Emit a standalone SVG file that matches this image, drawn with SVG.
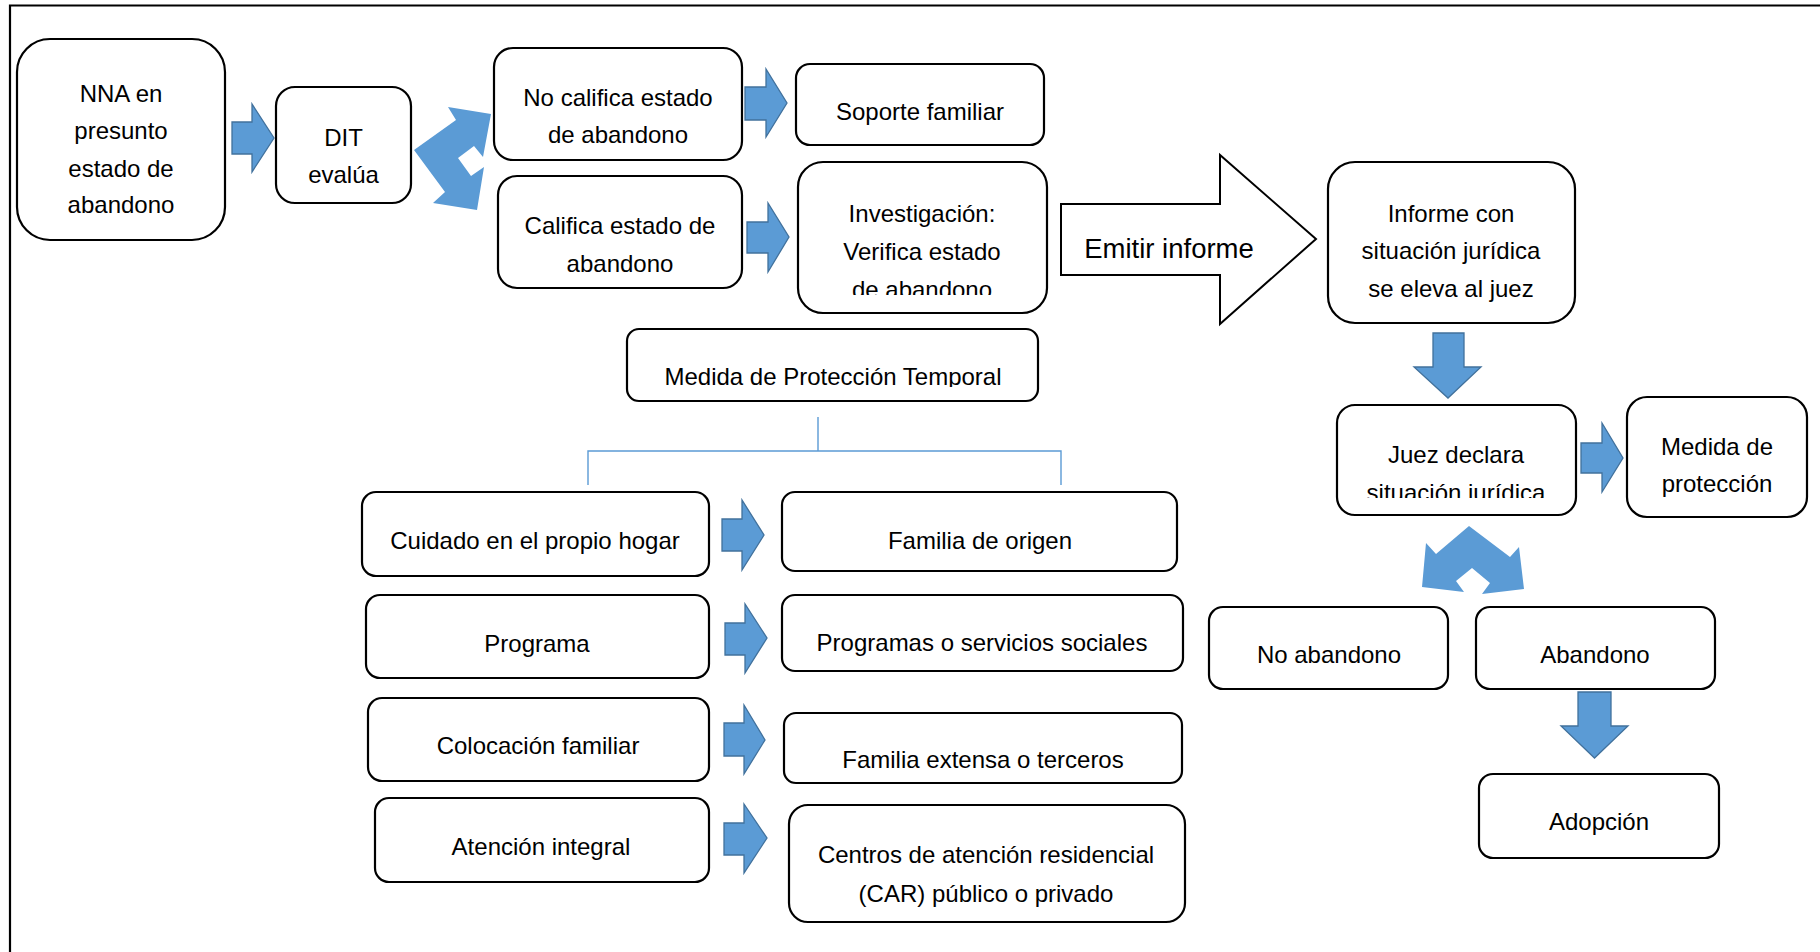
<svg xmlns="http://www.w3.org/2000/svg" width="1820" height="952" viewBox="0 0 1820 952">
<style>
.box{fill:#fff;stroke:#000;stroke-width:2.2}
.t{font-family:"Liberation Sans",Arial,sans-serif;font-size:24px;text-anchor:middle;fill:#000}
.big{font-size:27.5px}
.blk{fill:#5b9bd5;stroke:#41719c;stroke-width:1.3;stroke-linejoin:miter}
.flat{fill:#5b9bd5;stroke:none}
.ln{fill:none;stroke:#5b9bd5;stroke-width:1.4}
.frame{fill:none;stroke:#000;stroke-width:2.2}
.out{fill:#fff;stroke:#000;stroke-width:2}
</style>
<defs>
<clipPath id="clipInv"><rect x="798" y="162" width="249" height="133"/></clipPath>
<clipPath id="clipJuez"><rect x="1337" y="405" width="239" height="93"/></clipPath>
<clipPath id="clipMed"><rect x="627" y="329" width="411" height="58"/></clipPath>
</defs>
<rect width="1820" height="952" fill="#fff"/>
<path class="frame" d="M10,952 V5.5 H1820"/>

<g id="connectors">
<polygon class="blk" points="232,122 252,122 252,104 274,138 252,172 252,154 232,154"/>
<polygon class="flat" points="414,150 456,120 448,107 491,114 483,157 474,146 458,158 471,176 484,167 477,210 433,203 445,192"/>
<polygon class="blk" points="745,87 766,87 766,69 787,103 766,137 766,120 745,120"/>
<polygon class="blk" points="747,222 768,222 768,203 789,237 768,272 768,253 747,253"/>
<polygon class="blk" points="1433,333 1464,333 1464,367 1481,367 1448,398 1414,367 1433,367"/>
<polygon class="blk" points="1581,443 1602,443 1602,423 1623,458 1602,492 1602,473 1581,473"/>
<polygon class="flat" points="1469,526 1510,557 1519,547 1524,589 1482,594 1490,583 1472,568 1456,581 1464,592 1422,587 1426,543 1436,554"/>
<polygon class="blk" points="1578,692 1611,692 1611,726 1628,726 1594.5,758 1561,726 1578,726"/>
<path class="ln" d="M818,417 V451 M588,485 V451 H1061 V485"/>
<polygon class="blk" points="722,519 742,519 742,500 764,535 742,570 742,551 722,551"/>
<polygon class="blk" points="725,623 745,623 745,604 767,638 745,673 745,655 725,655"/>
<polygon class="blk" points="724,723 744,723 744,705 765,740 744,774 744,756 724,756"/>
<polygon class="blk" points="724,823 744,823 744,804 767,838 744,873 744,855 724,855"/>
</g>

<g id="emitir">
<polygon class="out" points="1061,204 1220,204 1220,155 1316,239 1220,324 1220,275 1061,275"/>
<text class="t big" x="1169" y="258">Emitir informe</text>
</g>

<g id="nna">
<rect class="box" x="17" y="39" width="208" height="201" rx="33"/>
<text class="t" x="121" y="102">NNA en</text>
<text class="t" x="121" y="139">presunto</text>
<text class="t" x="121" y="177">estado de</text>
<text class="t" x="121" y="213">abandono</text>
</g>
<g id="dit">
<rect class="box" x="276" y="87" width="135" height="116" rx="19"/>
<text class="t" x="343.5" y="146">DIT</text>
<text class="t" x="343.5" y="183">evalúa</text>
</g>
<g id="nocalifica">
<rect class="box" x="494" y="48" width="248" height="112" rx="19"/>
<text class="t" x="618" y="106">No califica estado</text>
<text class="t" x="618" y="143">de abandono</text>
</g>
<g id="califica">
<rect class="box" x="498" y="176" width="244" height="112" rx="19"/>
<text class="t" x="620" y="234">Califica estado de</text>
<text class="t" x="620" y="272">abandono</text>
</g>
<g id="soporte">
<rect class="box" x="796" y="64" width="248" height="81" rx="14"/>
<text class="t" x="920" y="120">Soporte familiar</text>
</g>
<g id="investigacion">
<rect class="box" x="798" y="162" width="249" height="151" rx="25"/>
<g clip-path="url(#clipInv)">
<text class="t" x="922" y="222">Investigación:</text>
<text class="t" x="922" y="260">Verifica estado</text>
<text class="t" x="922" y="298">de abandono</text>
</g>
</g>
<g id="informe">
<rect class="box" x="1328" y="162" width="247" height="161" rx="27"/>
<text class="t" x="1451" y="222">Informe con</text>
<text class="t" x="1451" y="259">situación jurídica</text>
<text class="t" x="1451" y="297">se eleva al juez</text>
</g>
<g id="juez">
<rect class="box" x="1337" y="405" width="239" height="110" rx="18"/>
<g clip-path="url(#clipJuez)">
<text class="t" x="1456" y="463">Juez declara</text>
<text class="t" x="1456" y="501">situación jurídica</text>
</g>
</g>
<g id="medidaproteccion">
<rect class="box" x="1627" y="397" width="180" height="120" rx="20"/>
<text class="t" x="1717" y="455">Medida de</text>
<text class="t" x="1717" y="492">protección</text>
</g>
<g id="noabandono">
<rect class="box" x="1209" y="607" width="239" height="82" rx="14"/>
<text class="t" x="1329" y="663">No abandono</text>
</g>
<g id="abandono">
<rect class="box" x="1476" y="607" width="239" height="82" rx="14"/>
<text class="t" x="1595" y="663">Abandono</text>
</g>
<g id="adopcion">
<rect class="box" x="1479" y="774" width="240" height="84" rx="14"/>
<text class="t" x="1599" y="830">Adopción</text>
</g>
<g id="medidatemporal">
<rect class="box" x="627" y="329" width="411" height="72" rx="12"/>
<g clip-path="url(#clipMed)">
<text class="t" x="833" y="385">Medida de Protección Temporal</text>
</g>
</g>
<g id="cuidado">
<rect class="box" x="362" y="492" width="347" height="84" rx="14"/>
<text class="t" x="535" y="549">Cuidado en el propio hogar</text>
</g>
<g id="familiaorigen">
<rect class="box" x="782" y="492" width="395" height="79" rx="13"/>
<text class="t" x="980" y="549">Familia de origen</text>
</g>
<g id="programa">
<rect class="box" x="366" y="595" width="343" height="83" rx="14"/>
<text class="t" x="537" y="652">Programa</text>
</g>
<g id="programas">
<rect class="box" x="782" y="595" width="401" height="76" rx="13"/>
<text class="t" x="982" y="651">Programas o servicios sociales</text>
</g>
<g id="colocacion">
<rect class="box" x="368" y="698" width="341" height="83" rx="14"/>
<text class="t" x="538" y="754">Colocación familiar</text>
</g>
<g id="familiaextensa">
<rect class="box" x="784" y="713" width="398" height="70" rx="12"/>
<text class="t" x="983" y="768">Familia extensa o terceros</text>
</g>
<g id="atencion">
<rect class="box" x="375" y="798" width="334" height="84" rx="14"/>
<text class="t" x="541" y="855">Atención integral</text>
</g>
<g id="centros">
<rect class="box" x="789" y="805" width="396" height="117" rx="19"/>
<text class="t" x="986" y="863">Centros de atención residencial</text>
<text class="t" x="986" y="902">(CAR) público o privado</text>
</g>
</svg>
